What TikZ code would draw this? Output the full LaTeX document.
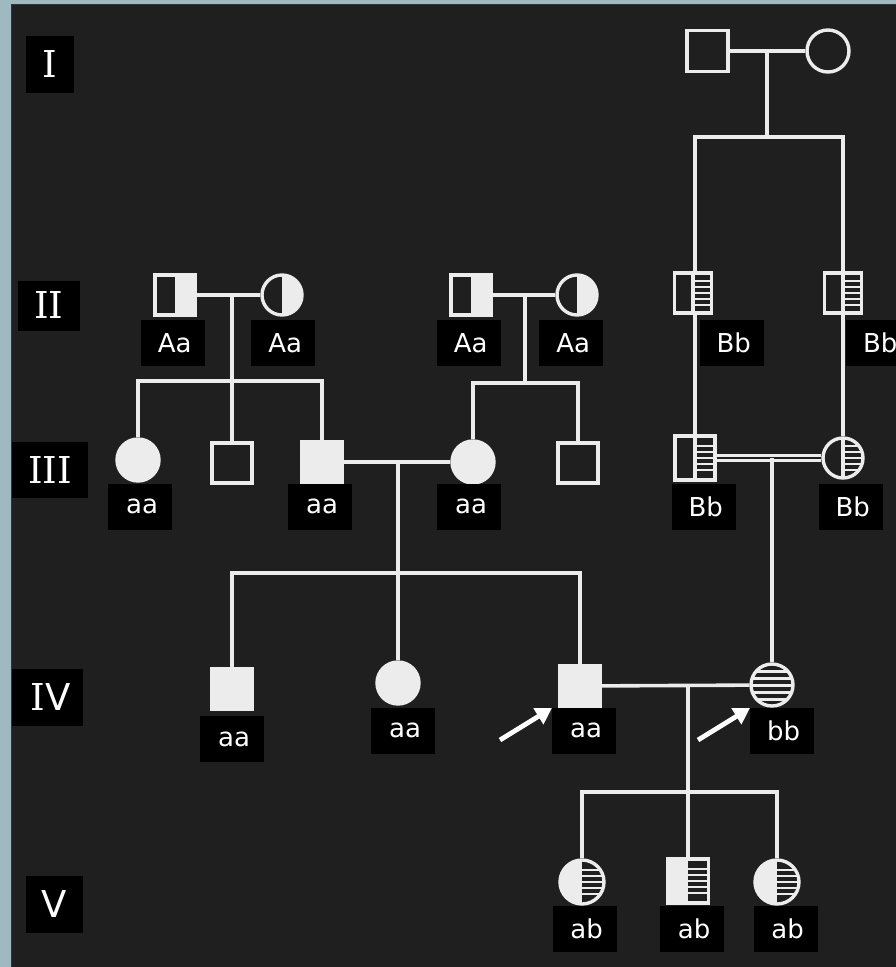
\documentclass[tikz,border=0pt]{standalone}
\usepackage{fontspec}
\setmainfont{DejaVu Sans}
\newfontfamily\romfont{DejaVu Serif}
\usetikzlibrary{arrows.meta}
\definecolor{bgout}{RGB}{160,184,192}
\definecolor{bgin}{RGB}{31,31,31}
\definecolor{ink}{RGB}{236,236,236}
\pgfdeclarelayer{bg}
\pgfsetlayers{bg,main}
\tikzset{
  ln/.style={draw=ink,line width=3.6pt},
  sym/.style={draw=ink,line width=3.4pt,fill=bgin,inner sep=0pt},
  sq/.style={sym,rectangle,minimum size=40pt},
  ci/.style={sym,circle,minimum size=42pt},
  aff/.style={fill=ink},
  hetA/.style={path picture={\fill[ink] (path picture bounding box.north) rectangle (path picture bounding box.south east);}},
  hetB/.style={path picture={\begin{scope}[shift={(path picture bounding box.center)}]
      \foreach \yy in {-12,-6,0,6,12}{\draw[ink,line width=2.6pt] (0,\yy) -- (26,\yy);}
      \draw[ink,line width=3.4pt] (0,-26) -- (0,26);\end{scope}}},
  homB/.style={path picture={\begin{scope}[shift={(path picture bounding box.center)}]
      \foreach \yy in {-14,-7,0,7,14}{\draw[ink,line width=3pt] (-26,\yy) -- (26,\yy);}\end{scope}}},
  hetAB/.style={path picture={\fill[ink] (path picture bounding box.north) rectangle (path picture bounding box.south west);
      \begin{scope}[shift={(path picture bounding box.center)}]
      \foreach \yy in {-12,-6,0,6,12}{\draw[ink,line width=2.6pt] (0,\yy) -- (26,\yy);}\end{scope}}},
  lab/.style={fill=black,text=white,inner sep=0pt,minimum width=64pt,minimum height=46pt,font=\fontsize{26}{26}\selectfont},
  gen/.style={fill=black,text=white,inner sep=0pt,font=\fontsize{37}{37}\selectfont},
  arr/.style={draw=white,line width=4.8pt,-{Triangle[length=16pt,width=18pt]}}
}
\begin{document}
\begin{tikzpicture}[x=1pt,y=-1pt]
\useasboundingbox (0,0) rectangle (896,967);
% generation labels
\node[gen,minimum width=48pt,minimum height=57pt] (gI) at (50,64.5) {\romfont I};
\node[gen,minimum width=62pt,minimum height=50pt] (gII) at (49,305.5) {\romfont II};
\node[gen,minimum width=76pt,minimum height=56pt] (gIII) at (50,470) {\romfont III};
\node[gen,minimum width=71pt,minimum height=57pt] (gIV) at (47.5,697.5) {\,{\romfont I}V};
\node[gen,minimum width=57pt,minimum height=57pt] (gV) at (54.5,904.5) {V};
% generation I
\node[sq,minimum size=41pt] (s1) at (707.5,51) {};
\node[ci] (c1) at (828,51) {};
% generation II
\node[sq,hetA] (a1) at (175,295) {};
\node[ci,hetA,minimum size=40pt] (a2) at (282,295) {};
\node[sq,hetA] (b1) at (471,295) {};
\node[ci,hetA,minimum size=40pt] (b2) at (577,295) {};
\node[sq,hetB,minimum width=37pt] (d1) at (693,293) {};
\node[sq,hetB,minimum width=37pt] (d2) at (843,293) {};
% generation III
\node[ci,aff] (e1) at (138,460) {};
\node[sq] (e2) at (232,463) {};
\node[sq,aff] (e3) at (322,462) {};
\node[ci,aff] (e4) at (473,462) {};
\node[sq] (e5) at (578,463) {};
\node[sq,hetB,minimum height=44pt] (f1) at (695,458) {};
\node[ci,hetB,minimum size=40pt] (f2) at (843,458) {};
% generation IV
\node[sq,aff,minimum size=41pt] (g1) at (232,689) {};
\node[ci,aff] (g2) at (398,683) {};
\node[sq,aff] (g3) at (580,686) {};
\node[ci,homB] (g4) at (772,685) {};
% generation V
\node[ci,hetAB,minimum size=44pt] (h1) at (582,882) {};
\node[sq,hetAB,minimum width=41pt,minimum height=44pt] (h2) at (688,881) {};
\node[ci,hetAB,minimum size=44pt] (h3) at (777,882) {};
% genotype labels
\node[lab] (l1) at (172.5,343) {\,Aa};
\node[lab] (l2) at (283,343) {\,Aa};
\node[lab] (l3) at (468.5,343) {\,Aa};
\node[lab] (l4) at (571,343) {\,Aa};
\node[lab] (l5) at (731.5,343) {\,Bb};
\node[lab] (l6) at (878,343) {\,Bb};
\node[lab] (l7) at (140,506.5) {\,aa};
\node[lab] (l8) at (320,506.5) {\,aa};
\node[lab] (l9) at (469,506.5) {\,aa};
\node[lab] (l10) at (703.5,506.5) {\,Bb};
\node[lab] (l11) at (850.5,506.5) {\,Bb};
\node[lab] (l12) at (232,739) {\,aa};
\node[lab] (l13) at (403,730.5) {\,aa};
\node[lab] (l14) at (584,730.5) {\,aa};
\node[lab] (l15) at (781.5,730.5) {\,bb};
\node[lab] (l16) at (584.5,929) {\,ab};
\node[lab] (l17) at (692,929) {\,ab};
\node[lab] (l18) at (785.5,929) {\,ab};
% arrows
\coordinate (p1s) at (500,740);
\coordinate (p1e) at (552,708);
\coordinate (p2s) at (698,740);
\coordinate (p2e) at (750,708);
\draw[arr] (p1s) -- (p1e);
\draw[arr] (p2s) -- (p2e);
% junction points
\coordinate (m1) at (767,51);
\coordinate (k1) at (767,137);
\coordinate (m2) at (232,295);
\coordinate (k2) at (232,381);
\coordinate (m3) at (525,295);
\coordinate (k3) at (525,383);
\coordinate (m4) at (398,462);
\coordinate (k4) at (398,573);
\coordinate (m5) at (772,458);
\coordinate (m6) at (688,685);
\coordinate (k6) at (688,792);
\begin{pgfonlayer}{bg}
\fill[bgout] (0,0) rectangle (896,967);
\fill[bgin] (11,4) rectangle (900,970);
\draw[black!80,line width=1.5pt] (11.5,970) -- (11.5,4.5) -- (900,4.5);
% generation I
\draw[ln] (s1) -- (c1);
\draw[ln] (m1) -- (k1);
\draw[ln] (f1) |- (k1) -| (f2);
% left couple II
\draw[ln] (a1) -- (a2);
\draw[ln] (m2) -- (e2);
\draw[ln] (e1) |- (k2) -| (e3);
% middle couple II
\draw[ln] (b1) -- (b2);
\draw[ln] (m3) -- (k3);
\draw[ln] (e4) |- (k3) -| (e5);
% couple III
\draw[ln] (e3) -- (e4);
\draw[ln] (m4) -- (g2);
\draw[ln] (g1) |- (k4) -| (g3);
% consanguineous couple III
\draw[draw=ink,line width=2.8pt,double=bgin,double distance=2.6pt] (f1) -- (f2);
\draw[ln] (m5) -- (g4);
% couple IV
\draw[ln] (g3) -- (g4);
\draw[ln] (m6) -- (h2);
\draw[ln] (h1) |- (k6) -| (h3);
\end{pgfonlayer}
\end{tikzpicture}
\end{document}
